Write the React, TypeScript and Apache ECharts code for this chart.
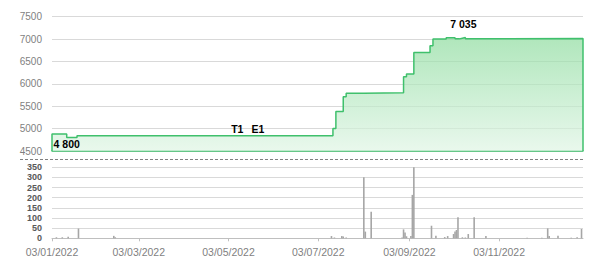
import React, { useEffect, useRef } from "react";
import * as echarts from "echarts";

// Price step changes (date, price)
const priceDates = [
  "2022-01-03", "2022-01-13", "2022-01-20", "2022-07-13", "2022-07-15", "2022-07-20",
  "2022-07-22", "2022-08-03", "2022-08-30", "2022-09-01", "2022-09-06", "2022-09-17",
  "2022-09-19", "2022-09-28", "2022-10-04", "2022-10-07", "2022-10-09", "2022-10-11",
  "2022-10-13", "2022-12-30",
];
const priceValues = [
  4880, 4800, 4840, 5000, 5380, 5710,
  5790, 5800, 6160, 6220, 6700, 6850,
  7000, 7030, 7005, 7020, 7035, 7005,
  7015, 7015,
];

// Volume bars (date, volume)
const volumeDates = [
  "2022-01-06", "2022-01-10", "2022-01-14", "2022-01-21", "2022-02-14", "2022-02-15",
  "2022-07-12", "2022-07-14", "2022-07-19", "2022-07-20", "2022-07-22", "2022-08-03",
  "2022-08-04", "2022-08-08", "2022-08-29", "2022-08-30", "2022-08-31", "2022-09-01",
  "2022-09-04", "2022-09-05", "2022-09-06", "2022-09-18", "2022-09-21", "2022-09-27",
  "2022-09-29", "2022-10-03", "2022-10-04", "2022-10-05", "2022-10-06", "2022-10-09",
  "2022-10-11", "2022-10-13", "2022-10-17", "2022-10-25", "2022-11-22", "2022-12-02",
  "2022-12-06", "2022-12-07", "2022-12-13", "2022-12-22", "2022-12-26", "2022-12-29",
];
const volumeValues = [
  5, 5, 8, 48, 12, 5,
  11, 4, 11, 9, 4, 301,
  33, 131, 4, 44, 28, 10,
  11, 214, 350, 62, 13, 6,
  11, 21, 33, 41, 104, 5,
  4, 21, 104, 11, 3, 3,
  49, 11, 13, 3, 5, 46,
];

// Event annotations
const eventLabels = ["T1", "E1"];
const eventDates = ["2022-05-09", "2022-05-23"];
const eventValues = [4840, 4840];

// Axis ticks
const xTickDates = ["2022-01-03", "2022-03-03", "2022-05-03", "2022-07-03", "2022-09-03", "2022-11-03"];
const startDate = "2022-01-03";
const endDate = "2022-12-30";
const priceMin = 4500;
const priceMax = 7500;
const priceStep = 500;
const volMin = 0;
const volMax = 350;
const volStep = 50;

const ts = (s: string) => {
  const [y, m, d] = s.split("-").map(Number);
  return new Date(y, m - 1, d).getTime();
};
const pad = (n: number) => (n < 10 ? "0" + n : "" + n);
const fmtDate = (v: number) => {
  const d = new Date(v);
  return `${pad(d.getDate())}/${pad(d.getMonth() + 1)}/${d.getFullYear()}`;
};
const fmtNum = (v: number) => String(v).replace(/\B(?=(\d{3})+(?!\d))/g, " ");

export default function App() {
  const ref = useRef<HTMLDivElement>(null);
  useEffect(() => {
    document.body.style.margin = "0";
    if (!ref.current) return;
    const chart = echarts.init(ref.current, null, { renderer: "svg" });

    const lineData: any[] = [[ts(startDate), priceMin]];
    priceDates.forEach((d, i) => lineData.push([ts(d), priceValues[i]]));
    lineData.push([ts(endDate), priceMin]);

    let maxI = 0, minI = 0;
    priceValues.forEach((v, i) => {
      if (v > priceValues[maxI]) maxI = i;
      if (v < priceValues[minI]) minI = i;
    });

    const barData = volumeDates.map((d, i) => [ts(d), volumeValues[i]]);
    const tickVals = xTickDates.map(ts);
    const font = "Liberation Sans";

    const option: any = {
      animation: false,
      textStyle: { fontFamily: font },
      graphic: [
        {
          type: "line",
          shape: { x1: 20, y1: 159.5, x2: 583, y2: 159.5 },
          style: { stroke: "#7f7f7f", lineWidth: 1, lineDash: [3, 2] },
          silent: true,
        },
      ],
      grid: [
        { left: 52, right: 17, top: 16.7, height: 134.3 },
        { left: 52, right: 17, top: 167.3, height: 71 },
      ],
      xAxis: [
        {
          type: "value",
          gridIndex: 0,
          min: ts(startDate),
          max: ts(endDate),
          axisLine: { show: true, lineStyle: { color: "#3fc06c", width: 1.5 } },
          axisTick: { show: false },
          axisLabel: { show: false },
          splitLine: { show: false },
        },
        {
          type: "value",
          gridIndex: 1,
          min: ts(startDate),
          max: ts(endDate),
          axisLine: { show: true, lineStyle: { color: "#bfbfbf", width: 1 } },
          axisTick: { show: true, customValues: tickVals, length: 3, lineStyle: { color: "#bfbfbf" } },
          axisLabel: {
            show: true,
            customValues: tickVals,
            formatter: (v: number) => fmtDate(v),
            color: "#7f7f7f",
            fontSize: 10.5,
            fontFamily: font,
            margin: 8,
          },
          splitLine: { show: false },
        },
      ],
      yAxis: [
        {
          type: "value",
          gridIndex: 0,
          min: priceMin,
          max: priceMax,
          interval: priceStep,
          axisLine: { show: false },
          axisTick: { show: false },
          axisLabel: { color: "#7f7f7f", fontSize: 10, fontFamily: font, margin: 10, formatter: (v: number) => String(v) },
          splitLine: { lineStyle: { color: "#d9d9d9", width: 1 } },
        },
        {
          type: "value",
          gridIndex: 1,
          min: volMin,
          max: volMax,
          interval: volStep,
          axisLine: { show: false },
          axisTick: { show: false },
          axisLabel: { color: "#595959", fontSize: 9, fontWeight: "bold", fontFamily: font, margin: 10, formatter: (v: number) => String(v) },
          splitLine: { lineStyle: { color: "#d9d9d9", width: 1 } },
        },
      ],
      series: [
        {
          type: "line",
          xAxisIndex: 0,
          yAxisIndex: 0,
          data: lineData,
          step: "end",
          showSymbol: false,
          symbol: "none",
          lineStyle: { color: "#3fc06c", width: 1.5 },
          areaStyle: {
            origin: "start",
            color: new echarts.graphic.LinearGradient(0, 0, 0, 1, [
              { offset: 0, color: "#8edc9f" },
              { offset: 1, color: "#e0f5e5" },
            ]),
          },
          markPoint: {
            symbol: "circle",
            symbolSize: 0,
            silent: true,
            label: { show: true, color: "#000", fontWeight: "bold", fontSize: 10.5, fontFamily: font },
            data: [
              {
                coord: [ts(priceDates[maxI]), priceValues[maxI]],
                value: priceValues[maxI],
                label: { formatter: fmtNum(priceValues[maxI]), offset: [1, -14] },
              },
              {
                coord: [ts(priceDates[minI]), priceValues[minI]],
                value: priceValues[minI],
                label: { formatter: fmtNum(priceValues[minI]), offset: [0, 6.5] },
              },
              ...eventLabels.map((l, i) => ({
                coord: [ts(eventDates[i]), eventValues[i]],
                value: eventValues[i],
                label: { formatter: l, offset: [0, -7] },
              })),
            ],
          },
        },
        {
          type: "bar",
          xAxisIndex: 1,
          yAxisIndex: 1,
          data: barData,
          barWidth: 1.6,
          itemStyle: { color: "#a6a6a6" },
        },
      ],
    };
    chart.setOption(option);
    return () => chart.dispose();
  }, []);
  return <div ref={ref} style={{ width: 600, height: 263 }} />;
}
